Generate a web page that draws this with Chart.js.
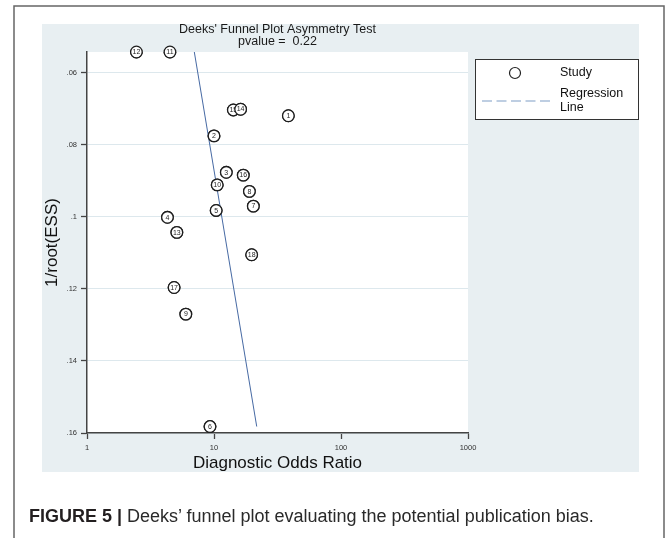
<!DOCTYPE html>
<html><head><meta charset="utf-8">
<script src="https://cdn.jsdelivr.net/npm/chart.js@4.4.1/dist/chart.umd.min.js"></script>
<style>
html,body{margin:0;padding:0;background:#fff;}
#wrap{position:relative;width:669px;height:538px;overflow:hidden;}
canvas{position:absolute;left:0;top:0;}
#caption{position:absolute;left:29px;top:505px;font-family:"Liberation Sans",Arial,sans-serif;font-size:18px;line-height:22px;color:#2a2a2a;white-space:nowrap;}
#caption b{font-weight:bold;color:#231f20;}
</style></head><body>
<div id="wrap"><canvas id="c" width="669" height="538"></canvas>
<div id="caption"><b>FIGURE 5 |</b> Deeks’ funnel plot evaluating the potential publication bias.</div></div>
<script>
// ---- data ----
const studyIds    = ['1','2','3','4','5','6','7','8','9','10','11','12','13','15','14','16','17','18'];
const dorValues   = [38.5, 10.0, 12.5, 4.3, 10.4, 9.3, 20.4, 19.0, 6.0, 10.6, 4.5, 2.45, 5.1, 14.2, 16.2, 17.0, 4.85, 19.8];
const invRootEss  = [0.0719, 0.0775, 0.0876, 0.1001, 0.0982, 0.1582, 0.0970, 0.0929, 0.1270, 0.0911, 0.0542, 0.0542, 0.1043, 0.0703, 0.0701, 0.0884, 0.1196, 0.1105];
const regressionDor = [7.0, 21.7];
const regressionY   = [0.0542, 0.1582];
const xTickValues = [1, 10, 100, 1000];
const xTickLabels = ['1', '10', '100', '1000'];
const yTickValues = [0.06, 0.08, 0.10, 0.12, 0.14, 0.16];
const yTickLabels = ['.06', '.08', '.1', '.12', '.14', '.16'];
const titleLines  = ["Deeks' Funnel Plot Asymmetry Test", 'pvalue =  0.22'];
const legendLabels = ['Study', 'Regression', 'Line'];

const FONT = '"Liberation Sans", Arial, sans-serif';
const PANEL = '#e8eff2';

const backgroundPlugin = {
  id: 'bg',
  beforeDraw(chart) {
    const c = chart.ctx, a = chart.chartArea;
    c.save();
    c.fillStyle = '#fff';
    c.fillRect(0, 0, chart.width, chart.height);
    c.fillStyle = PANEL;
    c.fillRect(42, 24, 597, 448);
    c.fillStyle = '#fff';
    c.fillRect(a.left, a.top, a.right - a.left, a.bottom - a.top);
    c.strokeStyle = '#666';
    c.lineWidth = 1.5;
    c.beginPath();
    c.moveTo(14, 540); c.lineTo(14, 6); c.lineTo(664, 6); c.lineTo(664, 540);
    c.stroke();
    c.restore();
  }
};

const markerLabelPlugin = {
  id: 'markerLabels',
  afterDatasetsDraw(chart) {
    const meta = chart.getDatasetMeta(0);
    const c = chart.ctx;
    c.save();
    meta.data.forEach((pt, i) => {
      c.beginPath();
      c.arc(pt.x, pt.y, 5.8, 0, Math.PI * 2);
      c.fillStyle = '#fff';
      c.fill();
      c.lineWidth = 1.3;
      c.strokeStyle = '#1e1e1e';
      c.stroke();
      c.fillStyle = '#1e1e1e';
      c.font = '7px ' + FONT;
      c.textAlign = 'center';
      c.textBaseline = 'middle';
      c.fillText(studyIds[i], pt.x, pt.y + 0.3);
    });
    c.restore();
  }
};

const legendPlugin = {
  id: 'customLegend',
  afterDraw(chart) {
    const c = chart.ctx;
    c.save();
    c.fillStyle = '#fff';
    c.fillRect(475, 59, 164, 60);
    c.strokeStyle = '#333';
    c.lineWidth = 1;
    c.strokeRect(475.5, 59.5, 163, 60);
    c.beginPath();
    c.arc(515, 73, 5.5, 0, Math.PI * 2);
    c.lineWidth = 1.2;
    c.strokeStyle = '#222';
    c.stroke();
    c.beginPath();
    c.setLineDash([10, 4.5]);
    c.strokeStyle = '#7f9ec6';
    c.lineWidth = 1.2;
    c.moveTo(482, 101); c.lineTo(551, 101);
    c.stroke();
    c.setLineDash([]);
    c.fillStyle = '#111';
    c.font = '12.5px ' + FONT;
    c.textAlign = 'left';
    c.textBaseline = 'middle';
    c.fillText(legendLabels[0], 560, 73);
    c.fillText(legendLabels[1], 560, 94);
    c.fillText(legendLabels[2], 560, 108);
    c.restore();
  }
};

new Chart(document.getElementById('c'), {
  type: 'scatter',
  data: {
    datasets: [
      {
        label: 'Study',
        data: studyIds.map((id, i) => ({ x: dorValues[i], y: invRootEss[i] })),
        pointRadius: 5.8,
        pointBorderWidth: 1.3,
        pointBorderColor: '#1e1e1e',
        pointBackgroundColor: '#fff',
        showLine: false,
        order: 1
      },
      {
        label: 'Regression Line',
        type: 'line',
        data: regressionDor.map((x, i) => ({ x: x, y: regressionY[i] })),
        borderColor: '#4669a3',
        borderWidth: 1,
        pointRadius: 0,
        showLine: true,
        fill: false,
        order: 2
      }
    ]
  },
  options: {
    responsive: false,
    animation: false,
    devicePixelRatio: 1,
    layout: { padding: { top: 0, left: 0, right: 201, bottom: 0 } },
    plugins: {
      legend: { display: false },
      tooltip: { enabled: false },
      title: {
        display: true,
        fullSize: false,
        text: titleLines,
        color: '#1a1a1a',
        font: { family: FONT, size: 12.5, weight: 'normal', lineHeight: 0.96 },
        padding: { top: 23.5, bottom: 4.5 }
      }
    },
    scales: {
      x: {
        type: 'logarithmic',
        position: 'bottom',
        min: xTickValues[0],
        max: xTickValues[xTickValues.length - 1],
        afterBuildTicks: (ax) => { ax.ticks = xTickValues.map(v => ({ value: v })); },
        afterFit: (s) => { s.height = 105; },
        ticks: {
          callback: (v, i) => xTickLabels[i],
          font: { family: FONT, size: 7.5 },
          color: '#333',
          padding: 4,
          autoSkip: false,
          maxRotation: 0
        },
        grid: { drawOnChartArea: false, drawTicks: true, tickLength: 6, tickColor: '#444', tickWidth: 1.3 },
        border: { color: '#444', width: 1.5 },
        title: {
          display: true,
          text: 'Diagnostic Odds Ratio',
          color: '#111',
          font: { family: FONT, size: 17 },
          padding: { top: 0, bottom: 64 }
        }
      },
      y: {
        type: 'linear',
        reverse: true,
        min: Math.min(...invRootEss),
        max: yTickValues[yTickValues.length - 1],
        afterBuildTicks: (ax) => { ax.ticks = yTickValues.map(v => ({ value: v })); },
        afterFit: (s) => { s.width = 87; },
        ticks: {
          callback: (v, i) => yTickLabels[i],
          font: { family: FONT, size: 7.5 },
          color: '#333',
          padding: 4,
          autoSkip: false
        },
        grid: { color: '#dde8ed', lineWidth: 1, drawTicks: true, tickLength: 6, tickColor: '#444', tickWidth: 1.3 },
        border: { color: '#444', width: 1.5 },
        title: {
          display: true,
          text: '1/root(ESS)',
          color: '#111',
          font: { family: FONT, size: 17 },
          padding: { top: 42, bottom: 0 }
        }
      }
    }
  },
  plugins: [backgroundPlugin, markerLabelPlugin, legendPlugin]
});
</script>
</body></html>
